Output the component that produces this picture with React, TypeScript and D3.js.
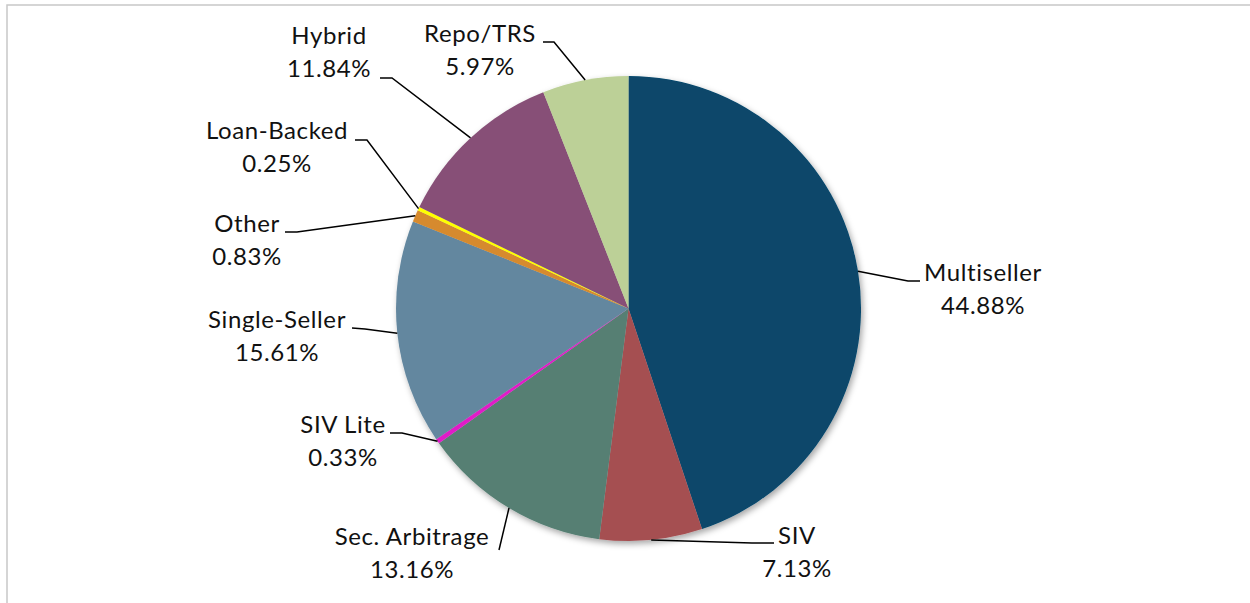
import * as d3 from 'd3';
import React from 'react';

// chart values, clockwise from 12 o'clock
const categories = ['Multiseller', 'SIV', 'Sec. Arbitrage', 'SIV Lite', 'Single-Seller', 'Other', 'Loan-Backed', 'Hybrid', 'Repo/TRS'];
const shares = [44.88, 7.13, 13.16, 0.33, 15.61, 0.83, 0.25, 11.84, 5.97];
const sliceColors = ['#07466B', '#A54F51', '#567F73', '#E01DC8', '#63879F', '#D68A2E', '#FFFF00', '#874F77', '#BCD097'];

// label placement (text centre / first baseline, leader elbow, leader end)
const labelLayout: Record<string, { x: number; y: number; elbow: [number, number]; end: [number, number] }> = {
  'Multiseller': { x: 983, y: 281, elbow: [908, 281], end: [920, 281] },
  'SIV': { x: 797, y: 544, elbow: [752, 543], end: [774, 543] },
  'Sec. Arbitrage': { x: 412, y: 545, elbow: [499, 550], end: [499, 550] },
  'SIV Lite': { x: 343, y: 433, elbow: [402, 433], end: [390, 433] },
  'Single-Seller': { x: 277, y: 328, elbow: [365, 329], end: [352, 328] },
  'Other': { x: 247, y: 232, elbow: [297, 232], end: [285, 232] },
  'Loan-Backed': { x: 277, y: 139, elbow: [367, 140], end: [355, 140] },
  'Hybrid': { x: 329, y: 44, elbow: [392, 78], end: [380, 78] },
  'Repo/TRS': { x: 480, y: 42, elbow: [554, 42], end: [543, 42] },
};

const W = 1250;
const H = 603;
const cx = 628.5;
const cy = 308.5;
const radius = 232.5;
const lineGap = 33;
const fontFamily = 'Lato, "Noto Sans", sans-serif';

export default function App() {
  const data = categories.map((c, i) => ({ category: c, value: shares[i], color: sliceColors[i] }));
  const pie = d3.pie<any>().value(d => d.value).sort(null);
  const arcs = pie(data);
  const arc = d3.arc<any>().innerRadius(0).outerRadius(radius);

  return (
    <div style={{ position: 'fixed', left: 0, top: 0, width: W, height: H, background: '#fff' }}>
      <svg width={W} height={H} style={{ display: 'block' }}>
        <defs>
          <filter id="pieShadow" x="-10%" y="-10%" width="130%" height="130%">
            <feDropShadow dx="2" dy="3" stdDeviation="3" floodColor="#000" floodOpacity="0.35" />
          </filter>
        </defs>
        <rect x={7} y={5} width={W} height={H} fill="none" stroke="#c8c8c8" strokeWidth={1.5} />
        <g transform={`translate(${cx},${cy})`} filter="url(#pieShadow)">
          {arcs.map((a, i) => (
            <path key={i} d={arc(a) as string} fill={a.data.color} />
          ))}
        </g>
        <g>
          {arcs.map((a, i) => {
            const mid = (a.startAngle + a.endAngle) / 2;
            const sx = cx + radius * Math.sin(mid);
            const sy = cy - radius * Math.cos(mid);
            const lay = labelLayout[a.data.category];
            const pts: [number, number][] = [[sx, sy], lay.elbow, lay.end];
            return (
              <path key={i} d={d3.line()(pts) as string} fill="none" stroke="#000" strokeWidth={1.5} />
            );
          })}
        </g>
        <g fontFamily={fontFamily} fontSize={24} fill="#111" textAnchor="middle" letterSpacing={0.6}>
          {arcs.map((a, i) => {
            const lay = labelLayout[a.data.category];
            return (
              <text key={i} x={lay.x} y={lay.y}>
                <tspan x={lay.x} y={lay.y}>{a.data.category}</tspan>
                <tspan x={lay.x} y={lay.y + lineGap}>{a.data.value.toFixed(2) + '%'}</tspan>
              </text>
            );
          })}
        </g>
      </svg>
    </div>
  );
}
